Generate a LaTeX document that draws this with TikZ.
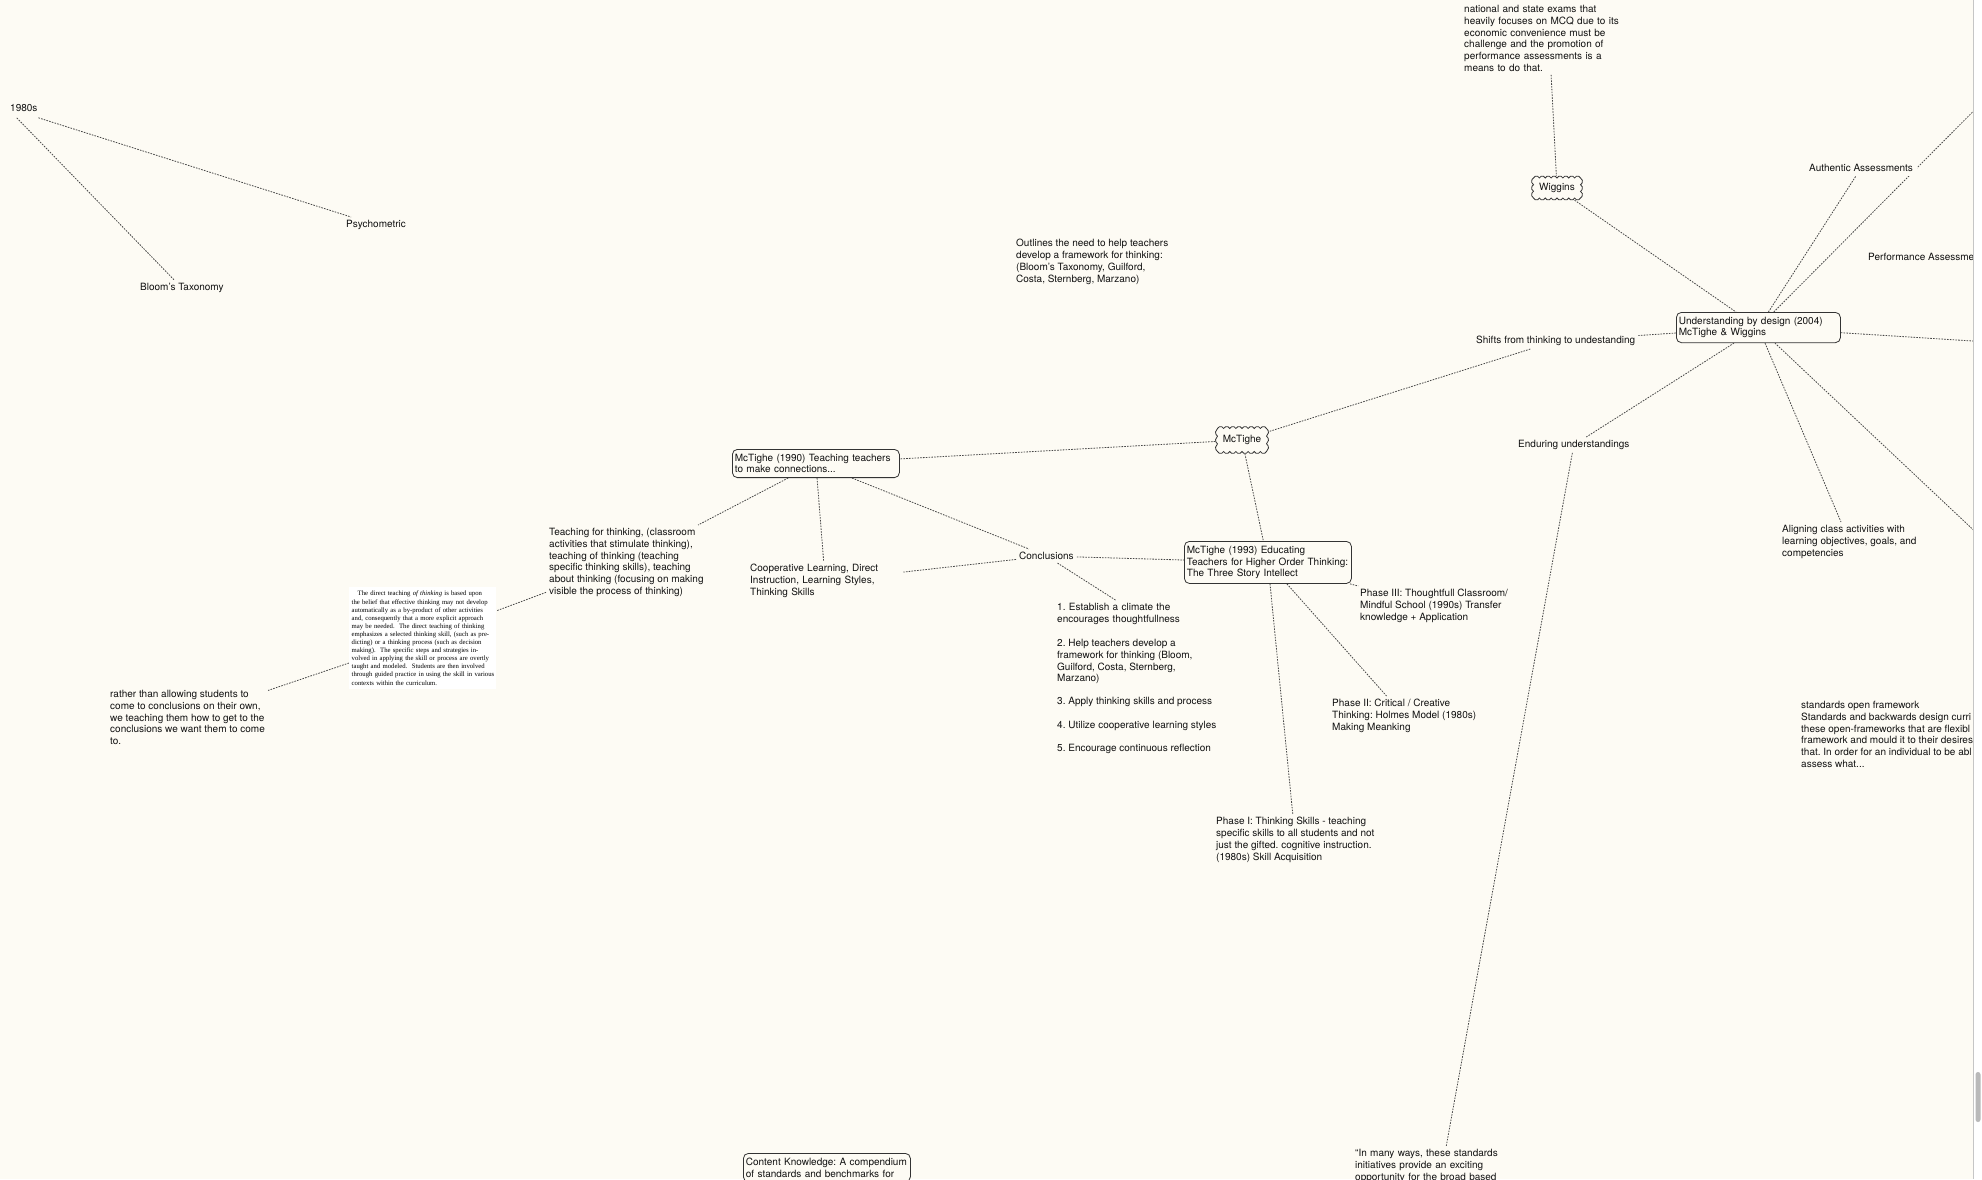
\documentclass[tikz,border=0pt]{standalone}
\usepackage{fontspec}
\setmainfont{TeX Gyre Heros}
\newfontfamily\imgserif{Liberation Serif}
\usetikzlibrary{backgrounds}
\definecolor{bg}{HTML}{FDFBF4}
\definecolor{ln}{HTML}{474747}
\definecolor{bd}{HTML}{333333}
\definecolor{tx}{HTML}{111111}
\hyphenpenalty=10000
\frenchspacing
% scalloped outline round a named node: #1 node, #2 half width, #3 half height, #4 bumps across, #5 bumps down
\newcommand{\scallopcloud}[5]{%
\begin{scope}[shift={(#1.center)},x=1pt,y=1pt]
\pgfmathsetmacro{\sch}{2*#2/#4}%
\pgfmathsetmacro{\scv}{2*#3/#5}%
\pgfmathsetmacro{\sRh}{(\sch*\sch/4+4)/4}%
\pgfmathsetmacro{\sTh}{asin(\sch/2/\sRh)}%
\pgfmathsetmacro{\sRv}{(\scv*\scv/4+4)/4}%
\pgfmathsetmacro{\sTv}{asin(\scv/2/\sRv)}%
\filldraw[draw=bd, line width=0.8pt, fill=bg] (-#2,#3)
  \foreach \k in {1,...,#4}{ arc[start angle=90+\sTh, end angle=90-\sTh, radius=\sRh] }
  \foreach \k in {1,...,#5}{ arc[start angle=\sTv, end angle=-\sTv, radius=\sRv] }
  \foreach \k in {1,...,#4}{ arc[start angle=270+\sTh, end angle=270-\sTh, radius=\sRh] }
  \foreach \k in {1,...,#5}{ arc[start angle=180+\sTv, end angle=180-\sTv, radius=\sRv] }
  -- cycle;
\end{scope}}
\begin{document}
\begin{tikzpicture}[x=1pt,y=-1pt,
  every node/.style={text=tx},
  note/.style={font=\fontsize{10}{11.8}\selectfont, align=left, inner sep=3pt, anchor=north west},
  boxnote/.style={draw=bd, line width=0.8pt, rounded corners=5pt, fill=bg, font=\fontsize{10}{11.8}\selectfont, align=left, inner xsep=2.5pt, inner ysep=4.5pt, anchor=north west},
  cloudtext/.style={font=\fontsize{10}{11.8}\selectfont, inner sep=0pt},
  conn/.style={draw=ln, line width=0.8pt, dash pattern=on 1.6pt off 1.2pt},
]
\useasboundingbox (0,0) rectangle (1982,1179);
\begin{pgfonlayer}{background}
\fill[bg] (0,0) rectangle (1982,1179);
\end{pgfonlayer}

% left cluster
\node[note] (y1980) at (7,101) {1980s};
\node[note] (psycho) at (343,217) {Psychometric};
\node[note] (bloom) at (137,280) {Bloom’s Taxonomy};

% free note
\node[note] (outlines) at (1013,236) {Outlines the need to help teachers\\develop a framework for thinking:\\(Bloom’s Taxonomy, Guilford,\\Costa, Sternberg, Marzano)};

% top right
\node[note, text width=170pt] (toptext) at (1461,2) {national and state exams that\\heavily focuses on MCQ due to its\\economic convenience must be\\challenge and the promotion of\\performance assessments is a\\means to do that.};
\node[cloudtext, minimum width=51pt, minimum height=24pt] (wiggins) at (1557,188) {Wiggins};
\begin{pgfonlayer}{background}\scallopcloud{wiggins}{23.5}{10}{8}{3}\end{pgfonlayer}
\node[note, inner sep=4pt, fill=bg] (authentic) at (1805,160) {Authentic Assessments};
\node[note] (perf) at (1865,250) {Performance Assessme};
\node[boxnote, text width=159pt] (ubd) at (1676,312) {Understanding by design (2004)\\McTighe \& Wiggins};
\node[note] (shifts) at (1473,333) {Shifts from thinking to undestanding};
\node[note] (enduring) at (1515,437) {Enduring understandings};
\node[note] (aligning) at (1779,522) {Aligning class activities with\\learning objectives, goals, and\\competencies};
\node[note] (standards) at (1798,698) {standards open framework\\Standards and backwards design curri\\these open-frameworks that are flexibl\\framework and mould it to their desires\\that. In order for an individual to be abl\\assess what...};
\node[note, text width=175pt] (many) at (1352,1146) {“In many ways, these standards\\initiatives provide an exciting\\opportunity for the broad based};
\coordinate (offA) at (2060,24);
\coordinate (offB) at (2100,349);
\coordinate (offC) at (2000,555);

% McTighe cluster
\node[cloudtext, minimum width=53pt, minimum height=27pt] (mct) at (1242,440) {McTighe};
\begin{pgfonlayer}{background}\scallopcloud{mct}{24.5}{11.5}{8}{3}\end{pgfonlayer}
\node[boxnote, text width=162pt] (mc90) at (732,449) {McTighe (1990) Teaching teachers\\to make connections...};
\node[boxnote, text width=162pt] (mc93) at (1184,541) {McTighe (1993) Educating\\Teachers for Higher Order Thinking:\\The Three Story Intellect};
\node[note] (teaching) at (546,525) {Teaching for thinking, (classroom\\activities that stimulate thinking),\\teaching of thinking (teaching\\specific thinking skills), teaching\\about thinking (focusing on making\\visible the process of thinking)};
\node[note, text width=150pt] (coop) at (747,561) {Cooperative Learning, Direct\\Instruction, Learning Styles,\\Thinking Skills};
\node[note] (concl) at (1016,549) {Conclusions};
\node[note, text width=160pt] (item1) at (1054,600) {1. Establish a climate the\\encourages thoughtfullness};
\node[note] (item2) at (1054,636) {2. Help teachers develop a\\framework for thinking (Bloom,\\Guilford, Costa, Sternberg,\\Marzano)};
\node[note] (item3) at (1054,694) {3. Apply thinking skills and process};
\node[note] (item4) at (1054,718) {4. Utilize cooperative learning styles};
\node[note] (item5) at (1054,741) {5. Encourage continuous reflection};
\node[note] (phase3) at (1357,586) {Phase III: Thoughtfull Classroom/\\Mindful School (1990s) Transfer\\knowledge + Application};
\node[note] (phase2) at (1329,696) {Phase II: Critical / Creative\\Thinking: Holmes Model (1980s)\\Making Meanking};
\node[note] (phase1) at (1213,814) {Phase I: Thinking Skills - teaching\\specific skills to all students and not\\just the gifted. cognitive instruction.\\(1980s) Skill Acquisition};
\node[boxnote, text width=162pt] (content) at (743,1153) {Content Knowledge: A compendium\\of standards and benchmarks for};

% scanned excerpt
\node[anchor=north west, fill=white, inner xsep=2.5pt, inner ysep=4pt, text width=142pt, align=left, font=\imgserif\fontsize{6.7}{8.1}\selectfont, text=black] (img) at (349,587) {%
\makebox[142pt][s]{\hspace{6pt}The direct teaching \textit{of thinking} is based upon}\\
\makebox[142pt][s]{the belief that effective thinking may not develop}\\
\makebox[142pt][s]{automatically as a by-product of other activities}\\
\makebox[142pt][s]{and, consequently that a more explicit approach}\\
\makebox[142pt][s]{may be needed.\ \ The direct teaching of thinking}\\
\makebox[142pt][s]{emphasizes a selected thinking skill, (such as pre-}\\
\makebox[142pt][s]{dicting) or a thinking process (such as decision}\\
\makebox[142pt][s]{making).\ \ The specific steps and strategies in-}\\
\makebox[142pt][s]{volved in applying the skill or process are overtly}\\
\makebox[142pt][s]{taught and modeled.\ \ Students are then involved}\\
\makebox[142pt][s]{through guided practice in using the skill in various}\\
contexts within the curriculum.};
\node[note] (rather) at (107,687) {rather than allowing students to\\come to conclusions on their own,\\we teaching them how to get to the\\conclusions we want them to come\\to.};

\begin{pgfonlayer}{background}
\draw[conn, shorten <=14pt] (y1980.west) -- (bloom);
\draw[conn, shorten <=33pt] (y1980.west) -- (psycho);
\draw[conn] (toptext) -- (wiggins);
\draw[conn] (wiggins) -- (ubd);
\draw[conn] (ubd) -- (authentic);
\draw[conn] (ubd) -- (offA);
\draw[conn] (ubd) -- (offB);
\draw[conn] (ubd) -- (offC);
\draw[conn] (ubd) -- (shifts);
\draw[conn] (shifts) -- (mct);
\draw[conn] (ubd) -- (enduring);
\draw[conn] (ubd) -- (aligning);
\draw[conn] (enduring) -- (many);
\draw[conn] (mct) -- (mc90);
\draw[conn] (mct) -- (mc93);
\draw[conn] (mc90) -- (teaching);
\draw[conn] (mc90) -- (coop);
\draw[conn] (mc90) -- (concl);
\draw[conn] (concl) -- (coop);
\draw[conn] (concl) -- (mc93);
\draw[conn] (concl) -- (item1);
\draw[conn] (teaching) -- (img);
\draw[conn] (img) -- (rather);
\draw[conn] (mc93) -- (phase3);
\draw[conn] (mc93) -- (phase2);
\draw[conn] (mc93) -- (phase1);
\end{pgfonlayer}

% window edge
\fill[white] (1973,0) rectangle (1982,1179);
\draw[gray!45, line width=0.8pt] (1973,0) -- (1973,1179);
\fill[gray!55, rounded corners=2.5pt] (1975.5,1072) rectangle (1980.5,1122);
\end{tikzpicture}
\end{document}
